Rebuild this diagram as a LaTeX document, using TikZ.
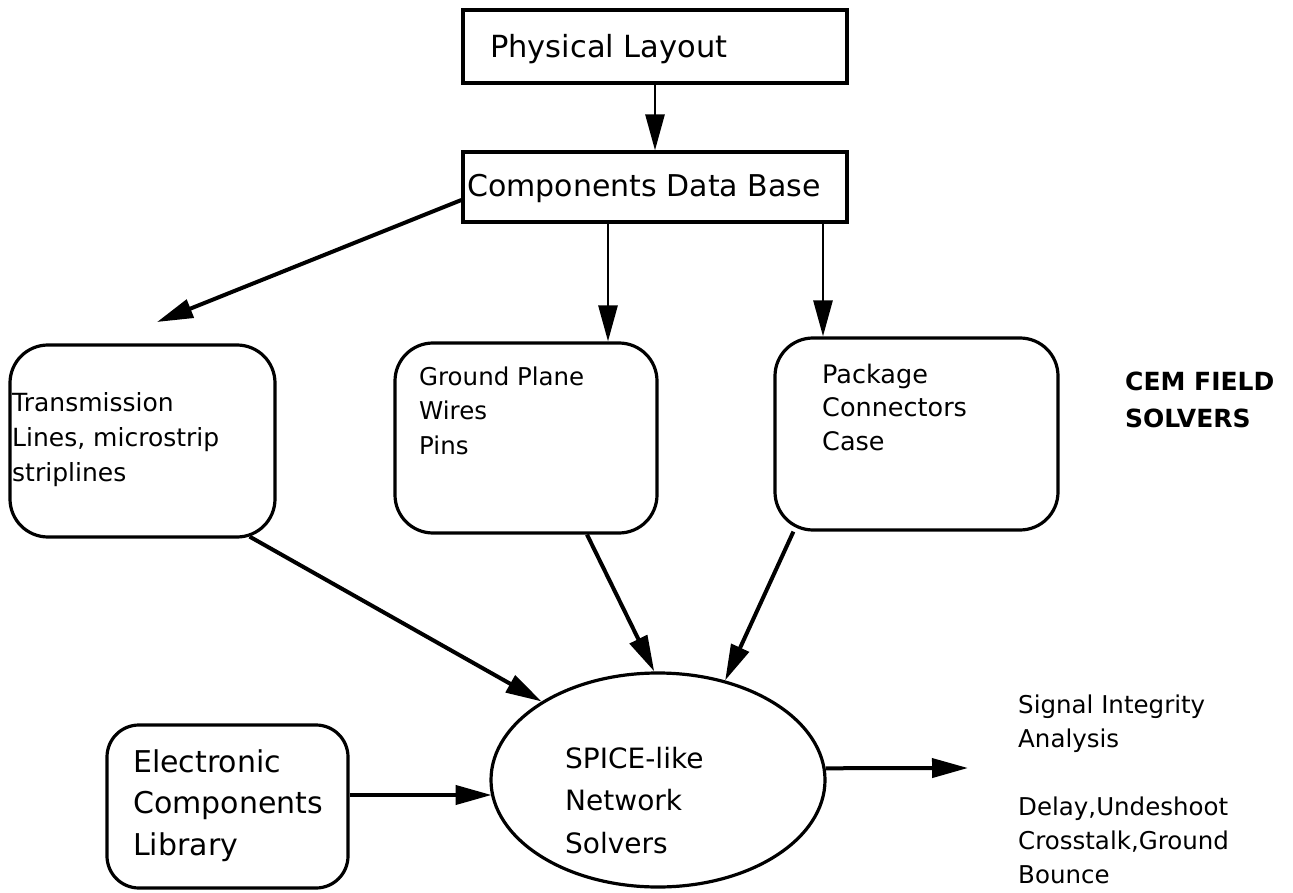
\documentclass[tikz,border=0pt]{standalone}
\usepackage{fontspec}
\setmainfont{DejaVu Sans}
\usetikzlibrary{arrows.meta,shapes.geometric}
\begin{document}
\begin{tikzpicture}[x=1pt,y=-1pt,
  box/.style={draw,line width=3.2pt,inner sep=0pt},
  roundbox/.style={box,rounded corners=38pt},
  txt/.style={anchor=base west,inner sep=0pt,align=left},
  arr/.style={line width=2.8pt,-{Triangle[length=36pt,width=19pt]}},
  thickarr/.style={arr,line width=4pt},
]
\useasboundingbox (0,0) rectangle (1293,893);

% boxes
\node[box,minimum width=384pt,minimum height=73pt] (phys) at (655,46.5) {};
\node[box,minimum width=384pt,minimum height=70pt] (cdb) at (655,187) {};
\node[roundbox,minimum width=265pt,minimum height=192pt] (trans) at (142.5,441) {};
\node[roundbox,minimum width=262pt,minimum height=190pt] (ground) at (526,438) {};
\node[roundbox,minimum width=283pt,minimum height=192pt] (pack) at (916.5,434) {};
\node[box,rounded corners=32pt,minimum width=241pt,minimum height=163pt] (elec) at (227.5,806.5) {};
\node[draw,ellipse,line width=3.2pt,inner sep=0pt,minimum width=334pt,minimum height=214pt] (spice) at (658,780) {};

% texts (anchored at the baseline of their last line)
\node[txt,font=\fontsize{30.5}{36}\selectfont] (tphys) at (490,58) {Physical Layout};
\node[txt,font=\fontsize{30}{34}\selectfont] (tcdb) at (467,197) {Components Data Base};
\node[txt,font=\fontsize{25}{35}\selectfont] (ttrans) at (12,481) {Transmission\\Lines, microstrip\\striplines};
\node[txt,font=\fontsize{24.5}{34.5}\selectfont] (tground) at (419,454) {Ground Plane\\Wires\\Pins};
\node[txt,font=\fontsize{25.5}{33.5}\selectfont] (tpack) at (822,450) {Package\\Connectors\\Case};
\node[txt,font=\fontsize{25}{37}\selectfont\bfseries] (tcem) at (1125,427) {CEM FIELD\\SOLVERS};
\node[txt,font=\fontsize{30}{41.5}\selectfont] (telec) at (133,855) {Electronic\\Components\\Library};
\node[txt,font=\fontsize{28}{42.5}\selectfont] (tspice) at (565,853) {SPICE-like\\Network\\Solvers};
\node[txt,font=\fontsize{24.5}{34}\selectfont] (tsig) at (1018,883) {Signal Integrity\\Analysis\\[34pt]Delay,Undeshoot\\Crosstalk,Ground\\Bounce};

% connectors
\coordinate (tl) at (157,322);
\coordinate (out) at (968,768);
\coordinate (ea) at ([yshift=11.5pt]elec.east);
\draw[arr] (phys.south) -- (cdb.north);
\draw[thickarr] ([yshift=-13pt]cdb.west) -- (tl);
\draw[arr] (cdb.south -| 608,0) -- (ground.north -| 608,0);
\draw[arr] (cdb.south -| 823,0) -- (pack.north -| 823,0);
\draw[thickarr] ([xshift=-27pt,yshift=2pt]trans.south east) -- (spice.146);
\draw[thickarr] ([xshift=61pt]ground.south) -- (spice.92);
\draw[thickarr] ([xshift=20pt]pack.south west) -- (spice.56);
\draw[thickarr] (ea) -- (ea -| spice.186);
\draw[thickarr] (spice.4) -- (out);
\end{tikzpicture}
\end{document}
